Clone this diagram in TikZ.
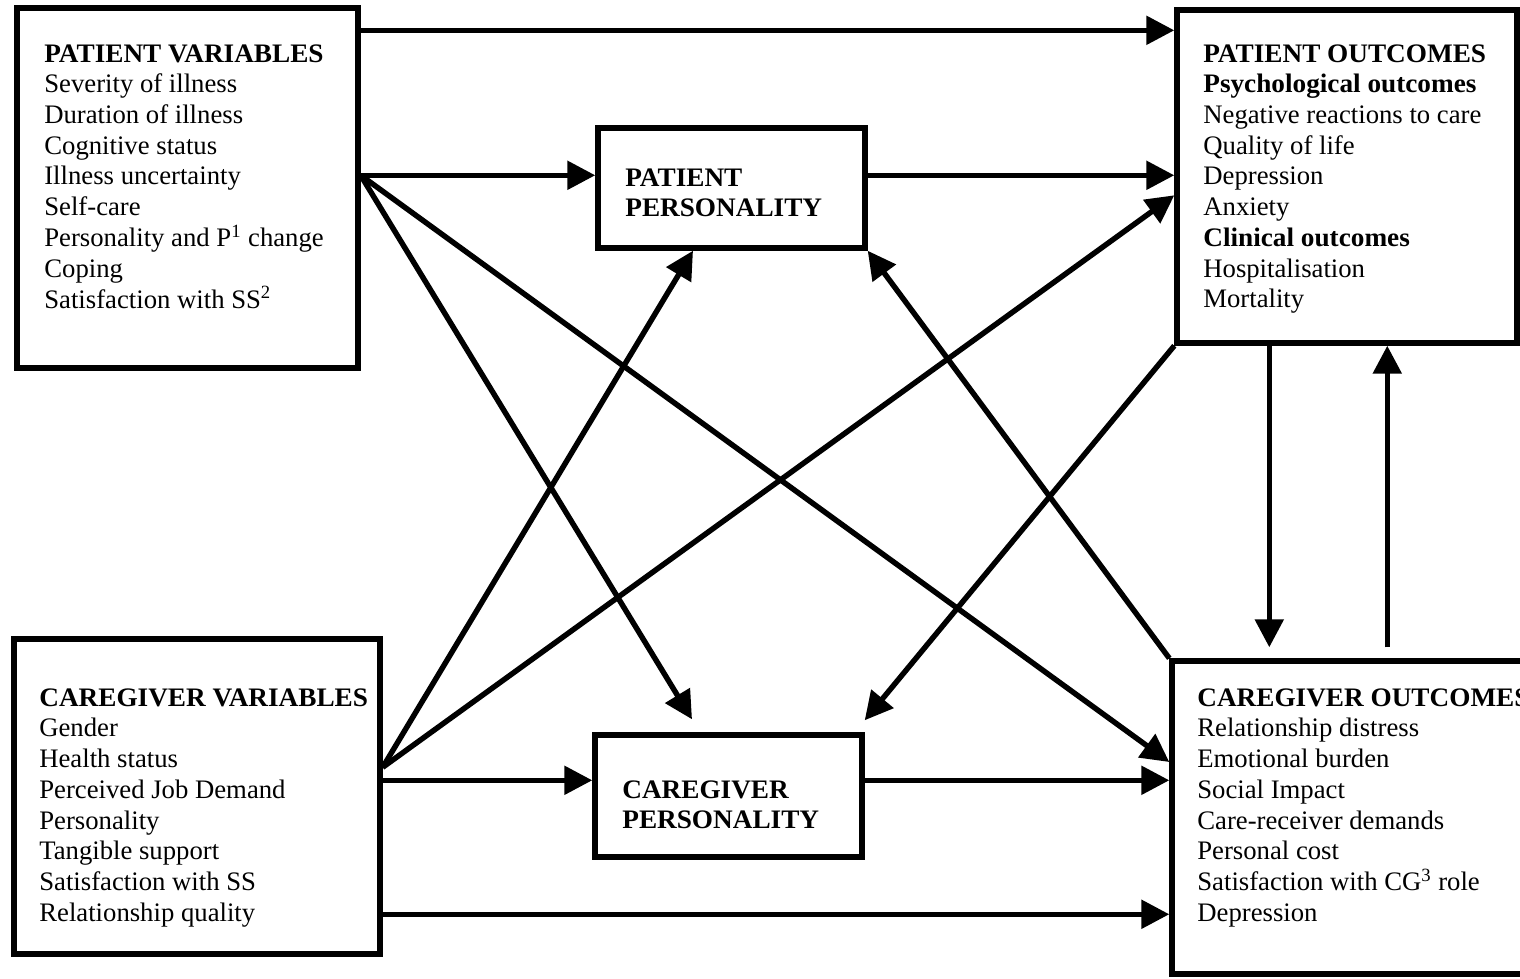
\documentclass[tikz,border=0pt]{standalone}
\usepackage{fontspec}
\setmainfont{Liberation Serif}[BoldFeatures={FakeStretch=1.02}]
\usetikzlibrary{arrows.meta,calc}
\begin{document}
\begin{tikzpicture}[x=0.02cm,y=-0.02cm,
  box/.style={draw,line width=3.1pt,inner sep=0pt},
  arr/.style={line width=3.1pt,-{Triangle[length=0.56cm,width=0.56cm]}},
  txt/.style={inner sep=0pt,anchor=base west,font=\fontsize{15.2pt}{17.5pt}\selectfont}]
\clip (0,0) rectangle (1520,978);
\fill[white] (0,0) rectangle (1520,978);

% boxes
\node[box,minimum width=6.82cm,minimum height=7.2cm] (PV) at (187.5,188) {};
\node[box,minimum width=6.8cm,minimum height=6.66cm] (PO) at (1347,176.5) {};
\node[box,minimum width=7.32cm,minimum height=6.3cm] (CV) at (197,796.5) {};
\node[box,minimum width=7.76cm,minimum height=6.26cm] (CO) at (1366,817.5) {};
\node[box,minimum width=5.34cm,minimum height=2.4cm] (PP) at (731.5,188) {};
\node[box,minimum width=5.34cm,minimum height=2.44cm] (CP) at (728.5,796) {};

% box contents
\node[txt] (pvText) at (44,62) {\begin{tabular}[t]{@{}l@{}}
\textbf{PATIENT VARIABLES}\\
Severity of illness\\
Duration of illness\\
Cognitive status\\
Illness uncertainty\\
Self-care\\
Personality and P\textsuperscript{1} change\\
Coping\\
Satisfaction with SS\textsuperscript{2}
\end{tabular}};

\node[txt] (poText) at (1203,62) {\begin{tabular}[t]{@{}l@{}}
\textbf{PATIENT OUTCOMES}\\
\textbf{Psychological outcomes}\\
Negative reactions to care\\
Quality of life\\
Depression\\
Anxiety\\
\textbf{Clinical outcomes}\\
Hospitalisation\\
Mortality
\end{tabular}};

\node[txt] (cvText) at (39,706) {\begin{tabular}[t]{@{}l@{}}
\textbf{CAREGIVER VARIABLES}\\
Gender\\
Health status\\
Perceived Job Demand\\
Personality\\
Tangible support\\
Satisfaction with SS\\
Relationship quality
\end{tabular}};

\node[txt] (coText) at (1197,706) {\begin{tabular}[t]{@{}l@{}}
\textbf{CAREGIVER OUTCOMES}\\
Relationship distress\\
Emotional burden\\
Social Impact\\
Care-receiver demands\\
Personal cost\\
Satisfaction with CG\textsuperscript{3} role\\
Depression
\end{tabular}};

\node[txt] (ppText) at (625,186) {\begin{tabular}[t]{@{}l@{}}
\textbf{PATIENT}\\
\textbf{PERSONALITY}
\end{tabular}};

\node[txt] (cpText) at (622,798) {\begin{tabular}[t]{@{}l@{}}
\textbf{CAREGIVER}\\
\textbf{PERSONALITY}
\end{tabular}};

% connector anchor points on the box edges
\coordinate (a1) at ([yshift=-0.5cm]PV.north east);
\coordinate (hubP) at ([yshift=-3.4cm]PV.north east);
\coordinate (hubC) at ([yshift=-2.62cm]CV.north east);
\coordinate (b1) at ([yshift=-2.88cm]CV.north east);
\coordinate (b2) at ([yshift=-5.56cm]CV.north east);
\coordinate (d1) at ([xshift=1.9cm]PO.south west);
\coordinate (d1e) at (d1 |- CO.north);
\coordinate (u1) at ([xshift=4.26cm]PO.south west);
\coordinate (u1e) at (u1 |- CO.north);

% horizontal connectors
\draw[arr] (a1) -- (a1 -| PO.west);
\draw[arr] (hubP) -- (hubP -| PP.west);
\draw[arr] (hubP -| PP.east) -- (hubP -| PO.west);
\draw[arr] (b1) -- (b1 -| CP.west);
\draw[arr] (b1 -| CP.east) -- (b1 -| CO.west);
\draw[arr] (b2) -- (b2 -| CO.west);

% diagonal connectors
\draw[arr] (hubP) -- ([xshift=-0.73cm,yshift=0.26cm]CP.north);
\draw[arr] (hubP) -- ([yshift=1.11cm]CO.west);
\draw[arr] (hubC) -- ([xshift=-0.77cm]PP.south);
\draw[arr] (hubC) -- ([yshift=-3.76cm]PO.north west);
\draw[arr] (PO.south west) -- ([yshift=0.24cm]CP.north east);
\draw[arr] (CO.north west) -- (PP.south east);

% vertical connectors between the outcome boxes
\draw[arr] (d1) -- ([yshift=0.22cm]d1e);
\draw[arr] ([yshift=0.22cm]u1e) -- (u1);
\end{tikzpicture}
\end{document}
